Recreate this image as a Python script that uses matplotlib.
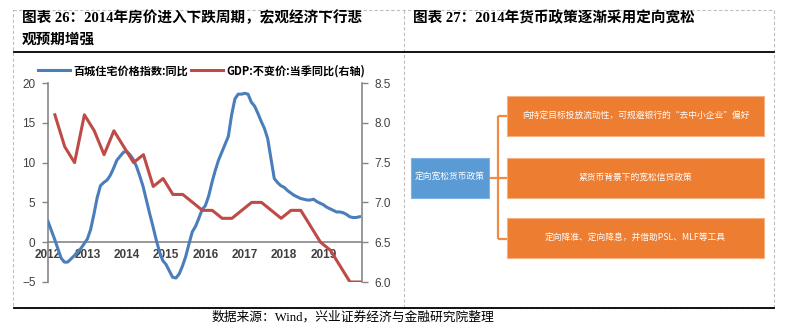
import numpy as np
import matplotlib
matplotlib.use("Agg")
import matplotlib.pyplot as plt
from matplotlib.patches import Rectangle
from matplotlib.lines import Line2D

plt.rcParams['font.family'] = ['Noto Sans CJK SC', 'DejaVu Sans']

# ---- data ----
# 百城住宅价格指数:同比, monthly 2012-01 .. 2019-12
house_yoy = [
    2.6, 1.5, 0.4, -0.8, -2.0, -2.5, -2.5, -2.1, -1.7, -1.2, -0.8, -0.2,   # 2012
    0.4, 1.6, 3.5, 5.6, 7.1, 7.5, 7.8, 8.4, 9.3, 10.3, 10.8, 11.3,         # 2013
    11.4, 11.0, 10.4, 9.5, 8.3, 7.0, 5.3, 3.6, 2.0, 0.3, -1.2, -2.3,       # 2014
    -2.8, -3.6, -4.4, -4.5, -4.0, -3.0, -1.8, -0.2, 1.3, 2.0, 3.0, 4.1,    # 2015
    4.6, 5.8, 7.5, 9.0, 10.3, 11.3, 12.3, 13.3, 16.0, 18.0, 18.6, 18.6,    # 2016
    18.7, 18.6, 17.6, 17.1, 16.2, 15.2, 14.3, 13.0, 10.5, 8.0, 7.5, 7.1,   # 2017
    6.9, 6.5, 6.2, 5.9, 5.7, 5.5, 5.4, 5.3, 5.3, 5.4, 5.1, 4.9,            # 2018
    4.7, 4.4, 4.2, 4.0, 3.8, 3.8, 3.7, 3.5, 3.2, 3.1, 3.1, 3.2,            # 2019
]
# GDP:不变价:当季同比, quarterly 2012Q1 .. 2019Q4
gdp_yoy = [
    8.1, 7.7, 7.5, 8.1,
    7.9, 7.6, 7.9, 7.7,
    7.5, 7.6, 7.2, 7.3,
    7.1, 7.1, 7.0, 6.9,
    6.9, 6.8, 6.8, 6.9,
    7.0, 7.0, 6.9, 6.8,
    6.9, 6.9, 6.7, 6.5,
    6.4, 6.2, 6.0, 6.0,
]
years = list(range(2012, 2020))
house_label = '百城住宅价格指数:同比'
gdp_label = 'GDP:不变价:当季同比(右轴)'

title_left_1 = '图表 26：2014年房价进入下跌周期，宏观经济下行悲'
title_left_2 = '观预期增强'
title_right = '图表 27：2014年货币政策逐渐采用定向宽松'
source_text = '数据来源：Wind，兴业证券经济与金融研究院整理'
center_text = '定向宽松货币政策'
branch_texts = [
    '向持定目标投放流动性，可规避银行的“去中小企业”偏好',
    '紧货币背景下的宽松信贷政策',
    '定向降准、定向降息，并借助PSL、MLF等工具',
]

W, H = 789, 331
BLUE = '#4A7EBB'
RED = '#BE4B48'
ORANGE = '#ED7D31'
BOXBLUE = '#5B9BD5'
AXGRAY = '#868686'
TXT = '#404040'

fig = plt.figure(figsize=(W / 100, H / 100), dpi=100)

# background axes in pixel coordinates for frames, titles and diagram
bg = fig.add_axes([0, 0, 1, 1])
bg.set_xlim(0, W)
bg.set_ylim(H, 0)
bg.axis('off')
bg.patch.set_alpha(0)

# dashed outer frame and divider
bg.add_patch(Rectangle((13, 10), 761, 298, fill=False, ec='#BFBFBF', lw=0.8, ls=(0, (3, 2))))
bg.plot([404, 404], [10, 308], color='#BFBFBF', lw=0.8, ls=(0, (3, 2)))
# solid black rules
bg.plot([14, 774], [52, 52], color='black', lw=1.3)
bg.plot([14, 774], [308, 308], color='black', lw=1.3)

title_font = ['Liberation Serif', 'Noto Sans CJK SC']
bg.text(22, 18, title_left_1, fontsize=10.5, fontweight='bold', family=title_font, va='center', ha='left')
bg.text(22, 40, title_left_2, fontsize=10.5, fontweight='bold', family=title_font, va='center', ha='left')
bg.text(413, 18, title_right, fontsize=10.5, fontweight='bold', family=title_font, va='center', ha='left')
bg.text(212, 317, source_text, fontsize=9.2, family=title_font, va='center', ha='left')

# ---- right panel: diagram ----
bg.add_patch(Rectangle((411, 158), 78, 39.5, fc=BOXBLUE, ec='#7FB2E5', lw=0.8))
bg.text(450, 177.5, center_text, color='white', fontsize=6.3, ha='center', va='center')
box_tops = [95.7, 157.7, 218.3]
box_h = 40
for top, txt in zip(box_tops, branch_texts):
    bg.add_patch(Rectangle((507, top), 257, box_h, fc=ORANGE, ec='#F4B183', lw=0.8))
    bg.text(635.5, top + box_h / 2, txt, color='white', fontsize=6.3, ha='center', va='center')
# bracket
bcol = '#F08B45'
bg.plot([489, 498], [177.5, 177.5], color=bcol, lw=1.6, solid_capstyle='butt')
bg.plot([498, 498], [115.5, 238.5], color=bcol, lw=1.6, solid_capstyle='butt')
for yy in [115.5, 177.5, 238.5]:
    bg.plot([498, 507], [yy, yy], color=bcol, lw=1.6, solid_capstyle='butt')

# ---- left panel: chart ----
ax = fig.add_axes([48 / W, 1 - 282 / H, (362 - 48) / W, (282 - 83) / H])
ax.patch.set_alpha(0)
ax2 = ax.twinx()

x_month = 2012 + np.arange(len(house_yoy)) / 12
x_quarter = 2012 + 0.175 + 0.25 * np.arange(len(gdp_yoy))

l1, = ax.plot(x_month, house_yoy, color=BLUE, lw=2.2, label=house_label, zorder=3)
l2, = ax2.plot(x_quarter, gdp_yoy, color=RED, lw=2.2, label=gdp_label, zorder=3)

ax.set_xlim(2012, 2019.98)
ax.set_ylim(-5, 20)
ax.set_yticks([-5, 0, 5, 10, 15, 20])
ax2.set_ylim(6.0, 8.5)
ax2.set_yticks([6.0, 6.5, 7.0, 7.5, 8.0, 8.5])
ax2.set_yticklabels([f'{v:.1f}' for v in [6.0, 6.5, 7.0, 7.5, 8.0, 8.5]])

ax.set_xticks(years)
ax.set_xticklabels([str(y) for y in years])

for a in (ax, ax2):
    a.spines['top'].set_visible(False)
    for s in a.spines.values():
        s.set_color(AXGRAY)
        s.set_linewidth(1.2)
ax.spines['right'].set_visible(False)
ax2.spines['left'].set_visible(False)
ax2.spines['bottom'].set_visible(False)
ax.spines['bottom'].set_position(('data', 0))

ax.tick_params(axis='y', direction='out', length=4, width=1, color=AXGRAY, labelsize=8.5,
               labelcolor=TXT, pad=5)
ax2.tick_params(axis='y', direction='out', length=4, width=1, color=AXGRAY, labelsize=8.5,
                labelcolor=TXT, pad=5)
ax.tick_params(axis='x', direction='out', length=0, labelsize=8.5, labelcolor=TXT, pad=5)
for t in ax.get_xticklabels() + ax.get_yticklabels() + ax2.get_yticklabels():
    t.set_family(['Liberation Sans', 'DejaVu Sans'])
for t in ax.get_xticklabels():
    t.set_fontweight('bold')

leg = ax.legend(handles=[l1, l2], loc='center left', ncol=2, frameon=False,
                bbox_to_anchor=(38 / W, 1 - 70.7 / H), bbox_transform=fig.transFigure,
                prop={'size': 8, 'weight': 'bold'}, handlelength=2.9, handletextpad=0.25,
                columnspacing=0.3, borderaxespad=0, borderpad=0)

fig.savefig('out.png', dpi=100)
